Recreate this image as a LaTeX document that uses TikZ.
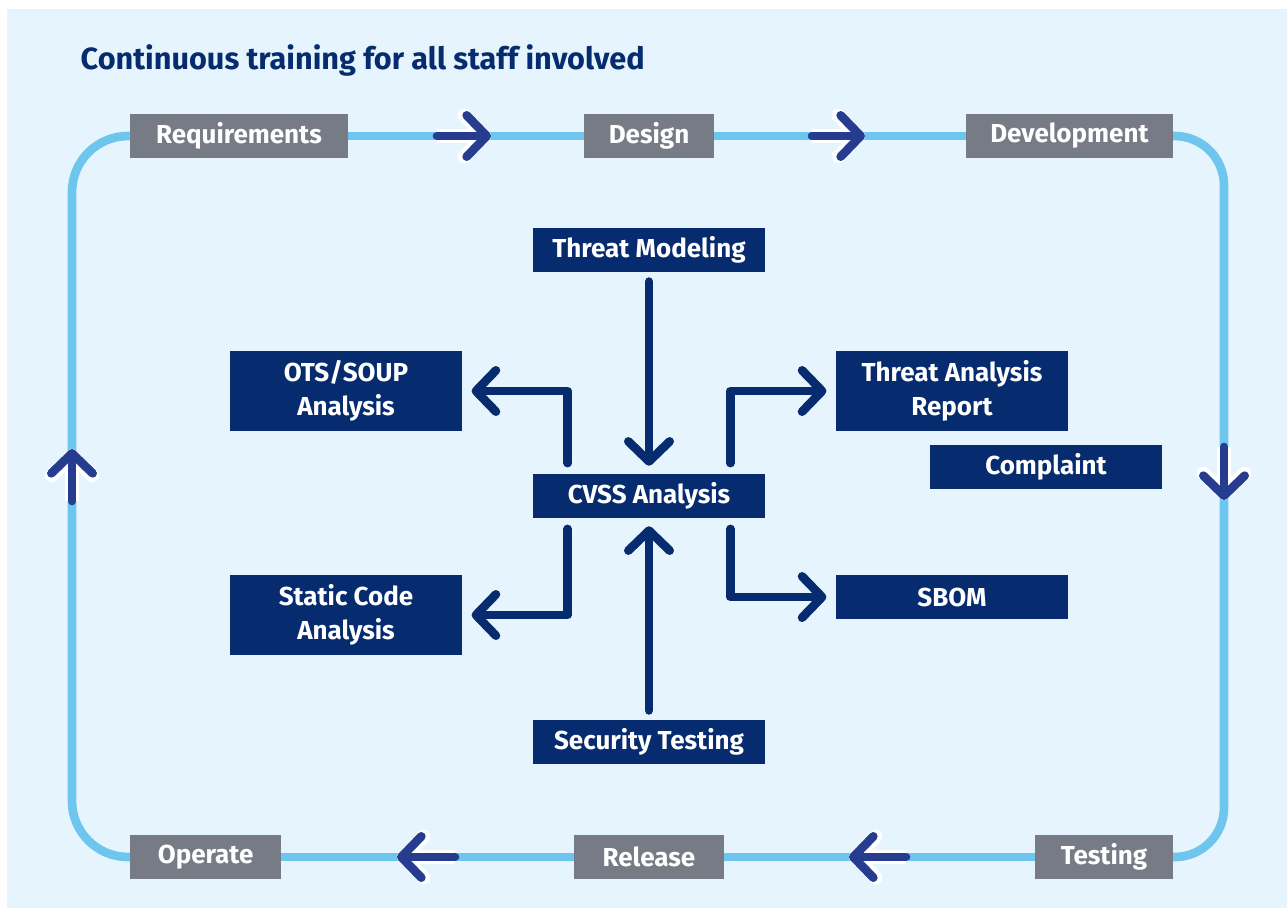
\documentclass[tikz,border=0pt]{standalone}
\usepackage{fontspec}
\setmainfont{Fira Sans}
\usetikzlibrary{arrows.meta,positioning,calc}
\definecolor{Navy}{HTML}{062B6E}
\definecolor{Cobalt}{HTML}{263C8E}
\definecolor{Sky}{HTML}{6EC6EE}
\definecolor{Haze}{HTML}{E6F5FD}
\definecolor{Slate}{HTML}{767B85}
\tikzset{
 task/.style={fill=Navy,text=white,align=center,font=\fontsize{19.5}{25.5}\selectfont\bfseries,minimum width=174pt,minimum height=33pt,inner sep=0pt},
 tasktwo/.style={task,minimum height=60pt},
 stage/.style={fill=Slate,text=white,font=\fontsize{19.5}{22}\selectfont\bfseries,minimum height=33pt,inner sep=0pt},
 flow/.style={draw=Navy,line width=6.5pt,line cap=round,line join=round,-{Straight Barb[length=15pt,width=31pt,round]}},
 ring/.style={draw=Sky,line width=6.5pt},
 turn/.style={flow,draw=Cobalt,preaction={draw=white,line width=10pt}}
}

\begin{document}
\begin{tikzpicture}[x=0.75pt,y=-0.75pt]
\useasboundingbox (0,0) rectangle (1287,908);
\fill[Haze] (7,9) rectangle (1287,908);
\node[anchor=west,text=Navy,font=\fontsize{23}{27}\selectfont\bfseries] (title) at (76,60) {Continuous training for all staff involved};
% lifecycle stages
\node[stage,anchor=west,minimum width=163pt] (req) at (130,136) {Requirements};
\node[stage,minimum width=97.5pt] (design) at (649,136) {Design};
\node[stage,anchor=east,minimum width=155pt] (dev) at (1173,136) {Development};
\node[stage,anchor=east,minimum width=103pt] (test) at (1173,857) {Testing};
\node[stage,minimum width=112pt] (rel) at (649,857) {Release};
\node[stage,anchor=west,minimum width=113pt] (op) at (130,857) {Operate};
\coordinate (ne) at (1224,136);
\coordinate (se) at (1224,857);
\coordinate (sw) at (72,857);
\coordinate (nw) at (72,136);
\draw[ring] (req.east) -- (design.west);
\draw[ring] (design.east) -- (dev.west);
\draw[ring,rounded corners=37pt] (dev.east) -- (ne) -- (se) -- (test.east);
\draw[ring] (test.west) -- (rel.east);
\draw[ring] (rel.west) -- (op.east);
\draw[ring,rounded corners=42pt] (op.west) -- (sw) -- (nw) -- (req.west);
\foreach \n/\x/\y/\u/\v in {t1/437/136/491/136,t2/812/136/865/136,t3/1224/447/1224/500,t4/906/857/849/857,t5/455/857/397/857,t6/72/501/72/449}{
 \coordinate (\n-from) at (\x,\y);
 \coordinate (\n-to) at (\u,\v);
 \draw[turn] (\n-from) -- (\n-to);
}
% security activities
\node[task] (cvss) at (649,496) {CVSS Analysis};
\node[task] (tm) at (649,250) {Threat Modeling};
\node[task] (sec) at (649,742) {Security Testing};
\node[tasktwo] (ots) at (346,391) {OTS/SOUP\\Analysis};
\node[tasktwo] (static) at (346,615) {Static Code\\Analysis};
\node[tasktwo] (tar) at (952,391) {Threat Analysis\\Report};
\node[task] (compl) at (1046,467) {Complaint};
\node[task] (sbom) at (952,597) {SBOM};
\draw[flow,shorten <=7pt,shorten >=6pt] (tm) -- (cvss);
\draw[flow,shorten <=7pt,shorten >=6pt] (sec) -- (cvss);
\draw[flow,shorten >=7pt] ([xshift=-61pt,yshift=8pt]cvss.north) |- (ots);
\draw[flow,shorten >=7pt] ([xshift=61pt,yshift=8pt]cvss.north) |- (tar);
\draw[flow,shorten >=7pt] ([xshift=-61pt,yshift=-8pt]cvss.south) |- (static);
\draw[flow,shorten >=7pt] ([xshift=61pt,yshift=-8pt]cvss.south) |- (sbom);
\end{tikzpicture}
\end{document}
